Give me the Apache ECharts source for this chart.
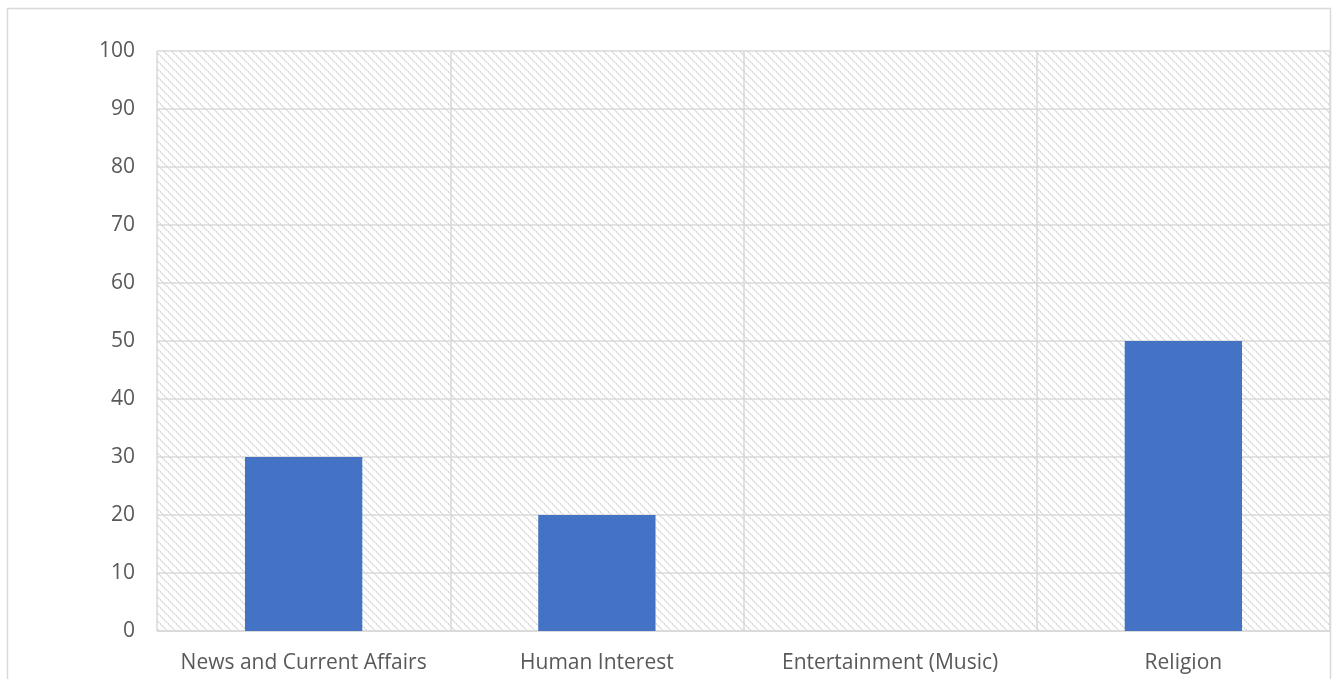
<!DOCTYPE html>
<html>
<head>
<meta charset="utf-8">
<script src="https://cdn.jsdelivr.net/npm/echarts@6/dist/echarts.min.js"></script>
<style>
  html, body { margin: 0; padding: 0; background: #ffffff; }
  #chart { width: 1336px; height: 679px; }
</style>
</head>
<body>
<div id="chart"></div>
<script>
// Programme categories and their shares (%)
var categories = ['News and Current Affairs', 'Human Interest', 'Entertainment (Music)', 'Religion'];
var shares = [30, 20, 0, 50];
var yTicks = [0, 10, 20, 30, 40, 50, 60, 70, 80, 90, 100];

// Downward diagonal hatch used as the plot-area fill
function hatchTile() {
  var c = document.createElement('canvas');
  c.width = 8; c.height = 8;
  var ctx = c.getContext('2d');
  ctx.fillStyle = '#ffffff';
  ctx.fillRect(0, 0, 8, 8);
  for (var i = 0; i < 8; i++) {
    ctx.fillStyle = (i % 2 === 0) ? '#d6d6d6' : '#ececec';
    ctx.fillRect(i, i, 1, 1);
    ctx.fillStyle = (i % 2 === 0) ? '#ececec' : '#d6d6d6';
    ctx.fillRect((i + 1) % 8, i, 1, 1);
  }
  return c;
}

var chart = echarts.init(document.getElementById('chart'), null, { renderer: 'canvas' });

chart.setOption({
  animation: false,
  backgroundColor: '#ffffff',
  textStyle: { fontFamily: '"Open Sans", "Noto Sans", sans-serif' },
  graphic: [{
    type: 'rect',
    shape: { x: 7.5, y: 8.5, width: 1323, height: 700 },
    style: { fill: 'none', stroke: '#d9d9d9', lineWidth: 1.5 },
    silent: true,
    z: -1
  }],
  grid: {
    left: 157, right: 6, top: 51, bottom: 48,
    show: true,
    borderWidth: 0,
    backgroundColor: { image: hatchTile(), repeat: 'repeat' }
  },
  xAxis: {
    type: 'category',
    data: categories,
    boundaryGap: true,
    axisLine: { show: true, lineStyle: { color: '#d9d9d9', width: 1.5 } },
    axisTick: { show: false, interval: 0 },
    axisLabel: { color: '#595959', fontSize: 21, margin: 22, interval: 0, hideOverlap: false },
    splitLine: { show: true, interval: 0, lineStyle: { color: '#d9d9d9', width: 1.5 } }
  },
  yAxis: {
    type: 'value',
    min: yTicks[0],
    max: yTicks[yTicks.length - 1],
    interval: 10,
    axisLine: { show: false },
    axisTick: { show: false },
    axisLabel: { color: '#595959', fontSize: 21, margin: 22 },
    splitLine: { show: true, lineStyle: { color: '#d9d9d9', width: 1.5 } }
  },
  series: [{
    type: 'bar',
    data: shares,
    barWidth: '40%',
    itemStyle: { color: '#4472c4' }
  }]
});
</script>
</body>
</html>
